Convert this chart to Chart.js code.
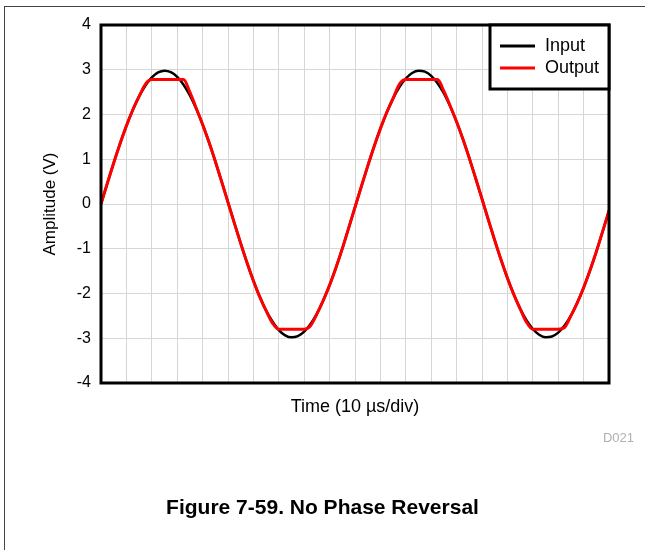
<!DOCTYPE html>
<html lang="en">
<head>
    <meta charset="UTF-8">
    <title>No Phase Reversal</title>
    <script src="https://cdn.jsdelivr.net/npm/chart.js"></script>
    <style>
        body {
            margin: 0;
            background: #fff;
            font-family: "Liberation Sans", Arial, sans-serif;
        }
        .figure {
            position: relative;
            width: 645px;
            height: 550px;
            overflow: hidden;
        }
        .frame {
            position: absolute;
            left: 4px;
            top: 6px;
            width: 700px;
            height: 600px;
            border-top: 1px solid #444;
            border-left: 1px solid #444;
        }
        #scope {
            position: absolute;
            left: 0;
            top: 0;
        }
        .code {
            position: absolute;
            right: 11px;
            top: 430px;
            font-size: 13px;
            color: #b0b0b0;
        }
        .caption {
            position: absolute;
            left: 0;
            width: 645px;
            top: 495px;
            text-align: center;
            font-size: 21px;
            font-weight: bold;
            color: #000;
        }
    </style>
</head>
<body>
    <div class="figure">
        <div class="frame"></div>
        <canvas id="scope" width="645" height="550"></canvas>
        <div class="code">D021</div>
        <div class="caption">Figure 7-59. No Phase Reversal</div>
    </div>
    <script>
        // time axis in µs (10 µs per division, 20 divisions)
        const timeUs = [
            0, 2.5, 5, 7.5, 10, 12.5, 15, 17.5, 20, 22.5,
            25, 27.5, 30, 32.5, 35, 37.5, 40, 42.5, 45, 47.5,
            50, 52.5, 55, 57.5, 60, 62.5, 65, 67.5, 70, 72.5,
            75, 77.5, 80, 82.5, 85, 87.5, 90, 92.5, 95, 97.5,
            100, 102.5, 105, 107.5, 110, 112.5, 115, 117.5, 120, 122.5,
            125, 127.5, 130, 132.5, 135, 137.5, 140, 142.5, 145, 147.5,
            150, 152.5, 155, 157.5, 160, 162.5, 165, 167.5, 170, 172.5,
            175, 177.5, 180, 182.5, 185, 187.5, 190, 192.5, 195, 197.5,
            200
        ];

        // Input (V)
        const inputV = [
            0, 0.464, 0.917, 1.348, 1.746, 2.100, 2.404, 2.649, 2.829, 2.940,
            2.980, 2.946, 2.841, 2.666, 2.427, 2.128, 1.778, 1.383, 0.954, 0.501,
            0.037, -0.427, -0.880, -1.314, -1.714, -2.075, -2.383, -2.623, -2.817, -2.935,
            -2.980, -2.952, -2.852, -2.682, -2.448, -2.155, -1.813, -1.423, -0.998, -0.538,
            -0.074, 0.391, 0.846, 1.281, 1.684, 2.047, 2.360, 2.614, 2.805, 2.928,
            2.979, 2.956, 2.862, 2.699, 2.469, 2.179, 1.836, 1.448, 1.025, 0.574,
            0.112, -0.353, -0.810, -1.247, -1.653, -2.020, -2.338, -2.598, -2.793, -2.921,
            -2.978, -2.962, -2.874, -2.716, -2.492, -2.207, -1.870, -1.487, -1.068, -0.612,
            -0.149
        ];

        // Output (V), clipped near the rails
        const outputV = [
            0, 0.464, 0.917, 1.348, 1.746, 2.100, 2.404, 2.680, 2.78, 2.78,
            2.78, 2.78, 2.78, 2.78, 2.50, 2.14, 1.778, 1.383, 0.954, 0.501,
            0.037, -0.427, -0.880, -1.314, -1.714, -2.075, -2.383, -2.660, -2.80, -2.80,
            -2.80, -2.80, -2.80, -2.72, -2.46, -2.155, -1.813, -1.423, -0.998, -0.538,
            -0.074, 0.391, 0.846, 1.281, 1.684, 2.047, 2.360, 2.680, 2.78, 2.78,
            2.78, 2.78, 2.78, 2.78, 2.52, 2.19, 1.836, 1.448, 1.025, 0.574,
            0.112, -0.353, -0.810, -1.247, -1.653, -2.020, -2.338, -2.640, -2.80, -2.80,
            -2.80, -2.80, -2.80, -2.76, -2.50, -2.207, -1.870, -1.487, -1.068, -0.612,
            -0.149
        ];

        const yTickLabels = ['-4', '-3', '-2', '-1', '0', '1', '2', '3', '4'];
        const seriesNames = ['Input', 'Output'];

        const toPoints = (vals) => timeUs.map((t, i) => ({ x: t, y: vals[i] }));

        // plot frame + boxed legend in the top right corner
        const framePlugin = {
            id: 'frameAndLegend',
            afterDatasetsDraw(chart) {
                const { ctx, chartArea: a } = chart;
                ctx.save();
                ctx.strokeStyle = '#000';
                ctx.lineWidth = 3;
                ctx.strokeRect(a.left, a.top, a.right - a.left, a.bottom - a.top);

                const boxW = 119, boxH = 64;
                const bx = a.right - boxW, by = a.top;
                ctx.fillStyle = '#fff';
                ctx.fillRect(bx, by, boxW, boxH);
                ctx.strokeRect(bx, by, boxW, boxH);

                ctx.font = '18px "Liberation Sans", Arial, sans-serif';
                ctx.textBaseline = 'middle';
                seriesNames.forEach((name, i) => {
                    const ds = chart.data.datasets.find(d => d.label === name);
                    const y = by + 21 + i * 22;
                    ctx.strokeStyle = ds.borderColor;
                    ctx.lineWidth = 3;
                    ctx.beginPath();
                    ctx.moveTo(bx + 10, y);
                    ctx.lineTo(bx + 45, y);
                    ctx.stroke();
                    ctx.fillStyle = '#000';
                    ctx.fillText(name, bx + 55, y);
                });
                ctx.restore();
            }
        };

        const ctx = document.getElementById('scope').getContext('2d');
        new Chart(ctx, {
            type: 'line',
            data: {
                datasets: [
                    {
                        label: 'Input',
                        data: toPoints(inputV),
                        borderColor: '#000000',
                        borderWidth: 2.5,
                        pointRadius: 0,
                        cubicInterpolationMode: 'monotone',
                        order: 2
                    },
                    {
                        label: 'Output',
                        data: toPoints(outputV),
                        borderColor: '#ff0000',
                        borderWidth: 3,
                        pointRadius: 0,
                        cubicInterpolationMode: 'monotone',
                        order: 1
                    }
                ]
            },
            options: {
                responsive: false,
                animation: false,
                layout: { padding: { top: 25, right: 36, bottom: 127, left: 4 } },
                plugins: {
                    legend: { display: false },
                    tooltip: { enabled: false }
                },
                scales: {
                    x: {
                        type: 'linear',
                        min: 0,
                        max: 200,
                        ticks: { stepSize: 10, display: false },
                        grid: { color: '#d6d6d6', lineWidth: 1, drawTicks: false },
                        border: { display: false },
                        title: {
                            display: true,
                            text: 'Time (10 µs/div)',
                            color: '#000',
                            font: { family: '"Liberation Sans", Arial, sans-serif', size: 18 },
                            padding: { top: 13, bottom: 5 }
                        },
                        afterFit(scale) { scale.height = 40; }
                    },
                    y: {
                        min: -4,
                        max: 4,
                        ticks: {
                            stepSize: 1,
                            padding: 10,
                            color: '#000',
                            font: { family: '"Liberation Sans", Arial, sans-serif', size: 16 },
                            callback: (v) => yTickLabels[v + 4]
                        },
                        grid: { color: '#d6d6d6', lineWidth: 1, drawTicks: false },
                        border: { display: false },
                        title: {
                            display: true,
                            text: 'Amplitude (V)',
                            color: '#000',
                            font: { family: '"Liberation Sans", Arial, sans-serif', size: 17 },
                            padding: { top: 36, bottom: 0 }
                        },
                        afterFit(scale) { scale.width = 97; }
                    }
                }
            },
            plugins: [framePlugin]
        });
    </script>
</body>
</html>
